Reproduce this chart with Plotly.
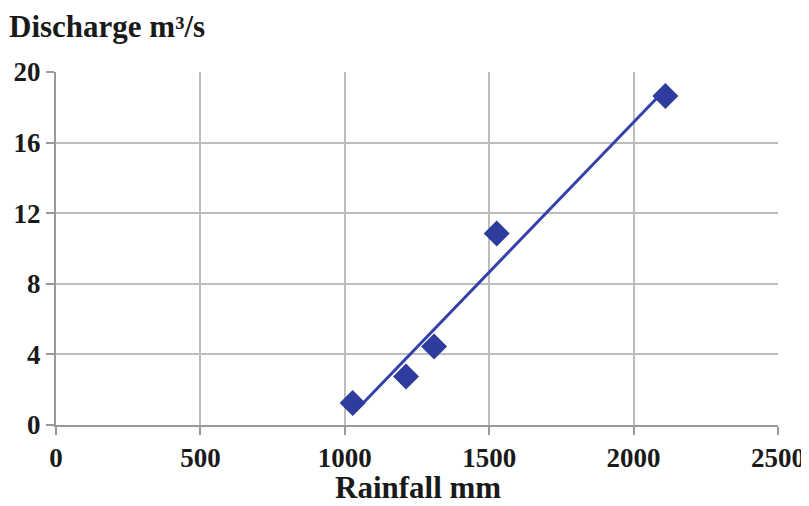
import numpy as np
import plotly.graph_objects as go

rainfall = [1027, 1212, 1309, 1526, 2110]
discharge = [1.24, 2.75, 4.45, 10.85, 18.64]
x_ticks = [0, 500, 1000, 1500, 2000, 2500]
y_ticks = [0, 4, 8, 12, 16, 20]

slope, intercept = np.polyfit(rainfall, discharge, 1)
tx = [min(rainfall), max(rainfall)]
ty = [slope * v + intercept for v in tx]

blue = "#2E3C9E"
font = "Liberation Serif"
txt = "#1a1a1a"

# page has an 8px body margin, so the figure is sized to fill the rest of the window
W, H = 801, 498
L, R, T, B = 48, 31, 64, 81
pw, ph = W - L - R, H - T - B

fig = go.Figure()
fig.add_trace(go.Scatter(x=tx, y=ty, mode="lines",
                         line=dict(color="#3242AA", width=3), hoverinfo="skip"))
fig.add_trace(go.Scatter(x=rainfall, y=discharge, mode="markers",
                         marker=dict(symbol="diamond", size=20, color=blue,
                                     line=dict(width=0))))

axis_common = dict(showgrid=True, gridcolor="#BDBDBD", gridwidth=1.5,
                   showline=True, linecolor="#999999", linewidth=2,
                   ticks="outside", ticklen=8, tickcolor="#999999", tickwidth=1.5,
                   zeroline=False, automargin=False,
                   tickfont=dict(family=font, size=27, color=txt, weight="bold"))

fig.update_layout(
    width=W, height=H,
    margin=dict(l=L, r=R, t=T, b=B),
    paper_bgcolor="white", plot_bgcolor="white",
    showlegend=False,
    font=dict(family=font, color=txt),
    xaxis=dict(range=[0, 2500], tickvals=x_ticks, **axis_common),
    yaxis=dict(range=[0, 20], tickvals=y_ticks, **axis_common),
)
fig.add_annotation(text="Discharge m³/s", xref="paper", yref="paper",
                   x=(0 - L) / pw, y=1 + T / ph, xanchor="left", yanchor="top",
                   borderpad=0, showarrow=False,
                   font=dict(family=font, size=31, color=txt, weight="bold"))
fig.add_annotation(text="Rainfall mm", xref="paper", yref="paper",
                   x=(410 - L) / pw, y=-(H - (T + ph)) / ph, xanchor="center", yanchor="bottom",
                   borderpad=0, showarrow=False,
                   font=dict(family=font, size=31, color=txt, weight="bold"))
fig.write_html("out.html")
